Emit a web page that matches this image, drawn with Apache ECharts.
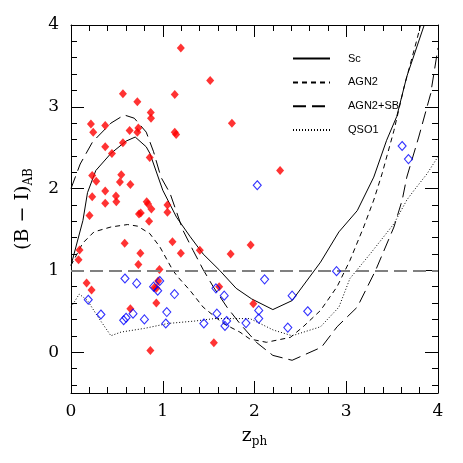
<!DOCTYPE html>
<html>
<head>
<meta charset="utf-8">
<script src="https://cdn.jsdelivr.net/npm/echarts@6/dist/echarts.min.js"></script>
<style>
  html, body { margin: 0; padding: 0; background: #fff; }
  #chart { width: 463px; height: 463px; }
</style>
</head>
<body>
<div id="chart"></div>
<script>
// template tracks (z_ph, B-I)
var scTrack = [[0,1.06],[0.13,1.61],[0.18,1.95],[0.27,2.22],[0.435,2.43],[0.6,2.58],[0.7,2.63],[0.82,2.51],
  [0.86,2.43],[1.0,1.98],[1.15,1.65],[1.3,1.41],[1.44,1.2],[1.62,1.0],[1.8,0.78],[1.97,0.65],[2.2,0.52],
  [2.41,0.63],[2.72,1.1],[2.92,1.47],[3.12,1.73],[3.3,2.14],[3.44,2.59],[3.55,2.88],[3.66,3.37],[3.85,4.0]];
var agn2Track = [[0,1.06],[0.126,1.33],[0.25,1.47],[0.435,1.53],[0.617,1.56],[0.727,1.54],[0.858,1.45],
  [0.967,1.29],[1.11,1.0],[1.164,0.92],[1.3,0.75],[1.44,0.55],[1.66,0.35],[1.84,0.245],[1.95,0.16],
  [2.13,0.12],[2.39,0.18],[2.53,0.31],[2.72,0.51],[2.9,0.8],[3.04,1.12],[3.19,1.53],[3.3,1.86],
  [3.39,2.18],[3.52,2.71],[3.63,3.24],[3.77,3.82],[3.81,4.0]];
var agn2sbTrack = [[0,2.0],[0.1,2.3],[0.235,2.57],[0.435,2.8],[0.58,2.9],[0.69,2.86],[0.82,2.69],
  [0.9,2.45],[0.98,2.14],[1.08,1.94],[1.22,1.49],[1.33,1.245],[1.44,1.01],[1.55,0.8],[1.7,0.55],
  [1.84,0.35],[2.02,0.12],[2.2,-0.04],[2.41,-0.1],[2.73,0.06],[2.9,0.31],[3.12,0.55],[3.32,1.0],
  [3.52,1.53],[3.61,1.86],[3.66,2.14],[3.79,2.63],[3.92,3.16],[4.0,3.72]];
var qso1Track = [[0,0.55],[0.04,0.62],[0.09,0.71],[0.18,0.63],[0.3,0.42],[0.435,0.2],[0.545,0.245],
  [0.8,0.29],[1.055,0.35],[1.35,0.38],[1.565,0.41],[1.77,0.41],[1.95,0.41],[2.06,0.35],[2.205,0.27],
  [2.41,0.2],[2.72,0.31],[2.92,0.55],[3.04,0.9],[3.26,1.2],[3.52,1.57],[3.66,1.86],[3.74,1.98],
  [3.88,2.18],[4.0,2.39]];

// objects
var redPoints = [[1.197,3.72],[1.517,3.32],[0.566,3.16],[1.131,3.15],[0.723,3.06],[0.869,2.93],[0.872,2.86],
  [0.217,2.79],[1.754,2.8],[0.373,2.77],[0.242,2.69],[0.639,2.71],[0.723,2.69],[0.734,2.74],[1.131,2.69],
  [1.146,2.66],[0.566,2.56],[0.373,2.51],[0.446,2.43],[0.858,2.38],[0.231,2.16],[0.275,2.09],[0.548,2.17],
  [0.533,2.08],[0.647,2.05],[0.373,1.97],[0.231,1.9],[0.49,1.91],[0.494,1.84],[0.373,1.82],[0.825,1.84],
  [0.84,1.81],[0.876,1.75],[1.051,1.8],[1.051,1.71],[0.202,1.67],[0.741,1.69],[0.76,1.7],[0.851,1.6],
  [2.279,2.22],[0.585,1.33],[1.106,1.35],[0.756,1.21],[1.197,1.21],[1.404,1.245],[1.74,1.2],[1.958,1.31],
  [0.093,1.25],[0.082,1.13],[0.734,1.07],[0.964,1.01],[0.95,0.87],[0.17,0.845],[0.224,0.76],[0.91,0.79],
  [0.93,0.78],[0.93,0.6],[0.647,0.53],[1.615,0.8],[1.987,0.59],[1.557,0.115],[0.865,0.02]];
var bluePoints = [[0.588,0.9],[0.716,0.84],[0.967,0.87],[0.9,0.8],[0.945,0.75],[1.128,0.71],[0.188,0.64],
  [0.326,0.46],[0.574,0.39],[0.6,0.42],[0.676,0.47],[0.8,0.4],[1.044,0.49],[1.033,0.35],[1.448,0.35],
  [1.58,0.78],[1.67,0.69],[1.59,0.47],[1.696,0.38],[1.678,0.32],[1.907,0.355],[2.11,0.89],[2.046,0.51],
  [2.046,0.41],[2.41,0.69],[2.58,0.5],[2.363,0.3],[2.894,0.99],[2.03,2.04],[3.609,2.52],[3.678,2.36]];

var yMajor = [0, 1, 2, 3, 4];
var yMinor = [];
for (var v = -0.4; v < 4; v += 0.2) {
  var r = Math.round(v * 10) / 10;
  if (Math.abs(r - Math.round(r)) > 1e-6) yMinor.push(r);
}

var serif = 'DejaVu Serif';
var chart = echarts.init(document.getElementById('chart'));

function xAx(pos, showLabel) {
  return {
    type: 'value', position: pos, min: 0, max: 4, interval: 1,
    axisLine: { show: true, onZero: false, lineStyle: { color: '#000', width: 1 } },
    axisTick: { show: true, inside: true, length: 12, lineStyle: { color: '#000' } },
    minorTick: { show: true, splitNumber: 5, length: 6, lineStyle: { color: '#000' } },
    splitLine: { show: false },
    axisLabel: { show: showLabel, color: '#000', fontFamily: serif, fontSize: 17, margin: 10 },
    name: showLabel ? '{m|z}{s|ph}' : '',
    nameLocation: 'middle', nameGap: 31,
    nameTextStyle: {
      rich: {
        m: { fontFamily: serif, fontSize: 19, color: '#000' },
        s: { fontFamily: serif, fontSize: 12, color: '#000', padding: [12, 0, 0, 0] }
      }
    }
  };
}

function yAx(pos, ticks, len, showLabel, showLine) {
  return {
    type: 'value', position: pos, min: -0.5, max: 4,
    axisLine: { show: showLine, onZero: false, lineStyle: { color: '#000', width: 1 } },
    axisTick: { show: true, inside: true, length: len, customValues: ticks, lineStyle: { color: '#000' } },
    splitLine: { show: false },
    axisLabel: { show: showLabel, customValues: yMajor, color: '#000', fontFamily: serif, fontSize: 17, margin: 12 },
    name: showLabel ? '{m|(B \u2212 I)}{s|AB}' : '',
    nameLocation: 'middle', nameGap: 36, nameRotate: 90,
    nameTextStyle: {
      rich: {
        m: { fontFamily: serif, fontSize: 19, color: '#000' },
        s: { fontFamily: serif, fontSize: 12, color: '#000', padding: [12, 0, 0, 0] }
      }
    }
  };
}

function track(name, data, dash) {
  return {
    name: name, type: 'line', data: data, symbol: 'none', smooth: false,
    xAxisIndex: 0, yAxisIndex: 0, z: 3,
    itemStyle: { color: '#000' },
    lineStyle: { color: '#000', width: 1, type: dash }
  };
}

var sc = track('Sc', scTrack, 'solid');
sc.markLine = {
  silent: true, symbol: 'none', label: { show: false },
  lineStyle: { color: '#808080', width: 2, type: [13, 6] },
  data: [{ yAxis: 1 }]
};

chart.setOption({
  animation: false,
  backgroundColor: '#fff',
  grid: { left: 71, right: 25, top: 25, bottom: 70, containLabel: false },
  xAxis: [xAx('bottom', true), xAx('top', false)],
  yAxis: [
    yAx('left', yMajor, 13, true, true),
    yAx('right', yMajor, 13, false, true),
    yAx('left', yMinor, 6, false, false),
    yAx('right', yMinor, 6, false, false)
  ],
  legend: {
    orient: 'vertical', left: 287, top: 48, itemWidth: 37, itemHeight: 14, itemGap: 12.6,
    data: ['Sc', 'AGN2', 'AGN2+SB', 'QSO1'],
    itemStyle: { opacity: 0, borderWidth: 0 },
    formatter: function (n) { return '{t|' + n + '}'; },
    textStyle: {
      fontFamily: 'Liberation Sans', fontSize: 11, color: '#000',
      rich: { t: { fontFamily: 'Liberation Sans', fontSize: 11, color: '#000', padding: [0, 0, 0, 13] } }
    }
  },
  series: [
    sc,
    track('AGN2', agn2Track, [5, 4]),
    track('AGN2+SB', agn2sbTrack, [13, 6]),
    track('QSO1', qso1Track, [1, 2]),
    {
      name: 'red', type: 'scatter', data: redPoints, symbol: 'diamond', symbolSize: [8, 9],
      itemStyle: { color: '#ff0000' }, z: 4
    },
    {
      name: 'blue', type: 'scatter', data: bluePoints, symbol: 'diamond', symbolSize: [8, 9],
      itemStyle: { color: 'rgba(255,255,255,0)', borderColor: '#0000ff', borderWidth: 1.1 }, z: 5
    }
  ]
});
</script>
</body>
</html>
